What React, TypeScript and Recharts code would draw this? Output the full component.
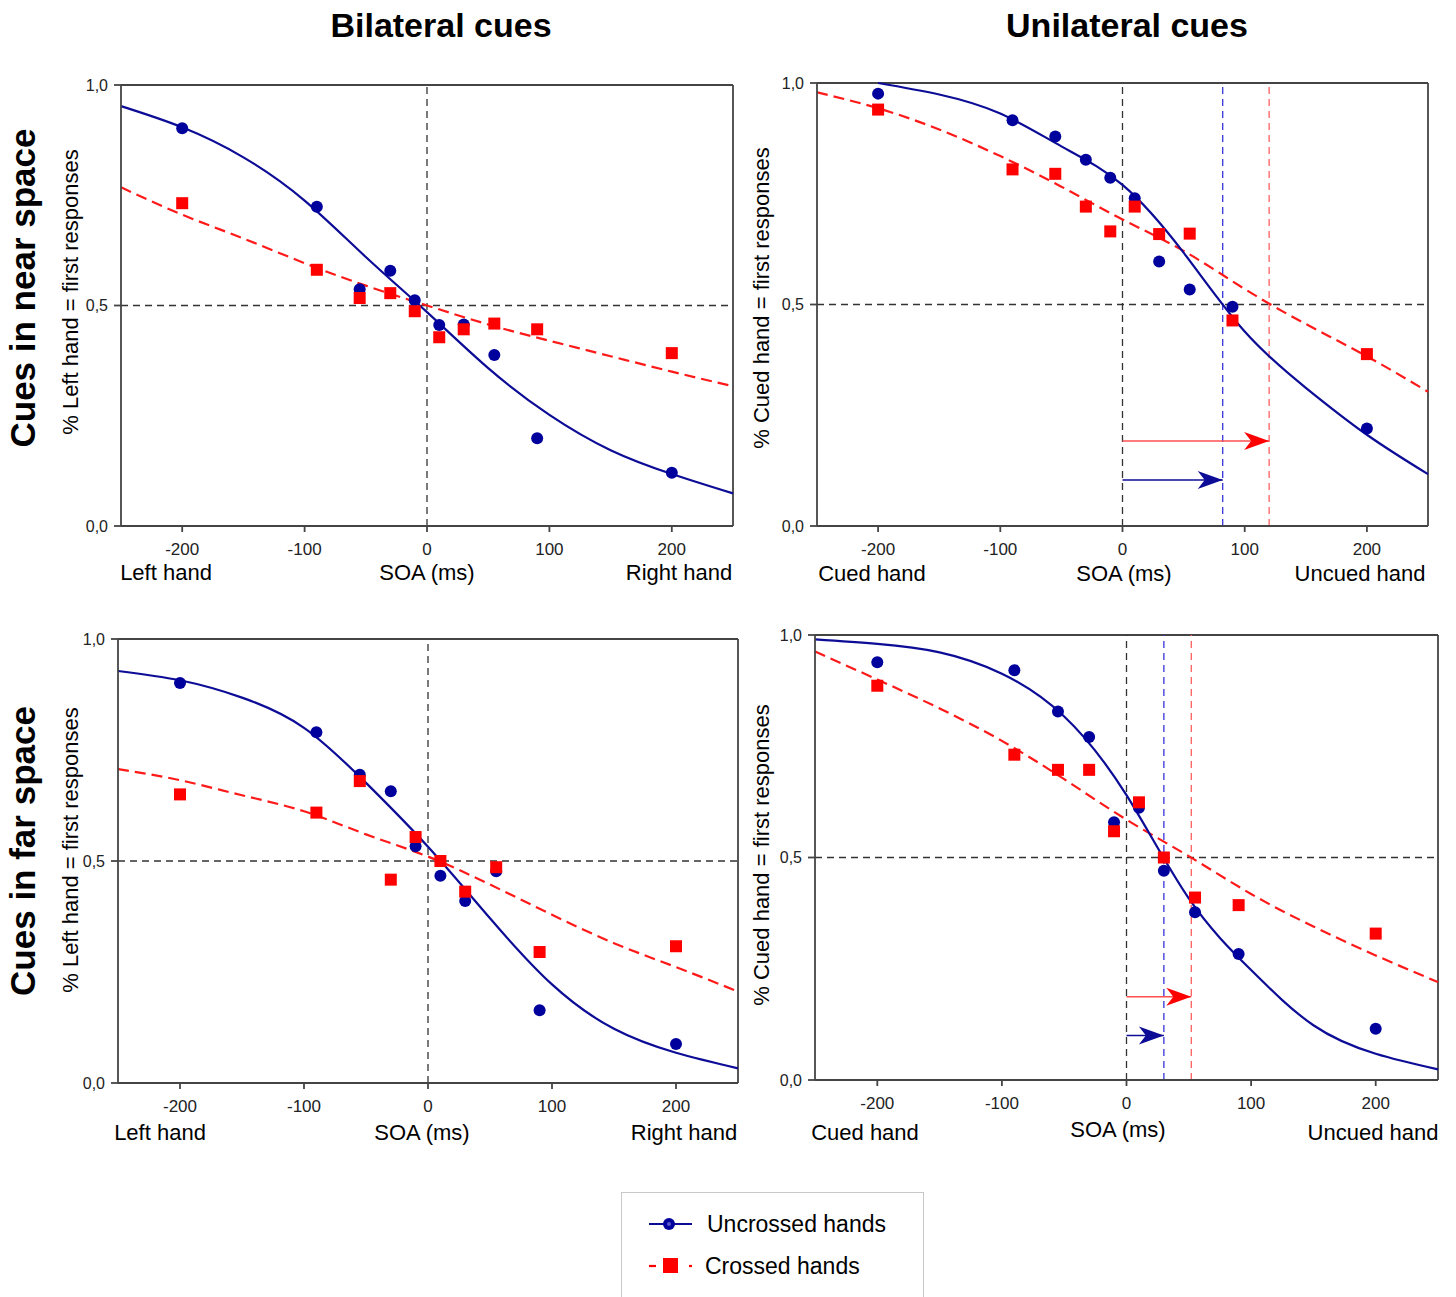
import React from 'react'
import { ComposedChart, Line, Scatter, XAxis, YAxis, ReferenceLine } from 'recharts'

const SOA = [-200, -90, -55, -30, -10, 10, 30, 55, 90, 200]
const FIT_SOA = [-250, -200, -150, -100, -50, 0, 50, 100, 150, 200, 250]
const X_TICKS = [-200, -100, 0, 100, 200]
const Y_TICKS = [0, 0.5, 1]

// near space, bilateral cues
const nearBiUncrossed = [0.902, 0.724, 0.537, 0.579, 0.512, 0.456, 0.457, 0.388, 0.199, 0.121]
const nearBiCrossed = [0.732, 0.581, 0.517, 0.528, 0.487, 0.428, 0.446, 0.459, 0.446, 0.392]
const nearBiUncrossedFit = [0.952, 0.904, 0.836, 0.738, 0.61, 0.485, 0.358, 0.252, 0.172, 0.118, 0.074]
const nearBiCrossedFit = [0.768, 0.706, 0.652, 0.596, 0.545, 0.5, 0.457, 0.42, 0.385, 0.35, 0.317]

// near space, unilateral cues
const nearUniUncrossed = [0.976, 0.916, 0.879, 0.827, 0.786, 0.74, 0.597, 0.534, 0.495, 0.22]
const nearUniCrossed = [0.94, 0.805, 0.795, 0.721, 0.665, 0.721, 0.659, 0.66, 0.464, 0.388]
const nearUniUncrossedFit = [null, 1.0, 0.974, 0.931, 0.857, 0.77, 0.617, 0.439, 0.312, 0.206, 0.117]
const nearUniCrossedFit = [0.979, 0.943, 0.895, 0.835, 0.766, 0.692, 0.621, 0.535, 0.456, 0.383, 0.303]
const nearUniPSE = [82, 120] // uncrossed, crossed
const nearUniArrowY = [0.104, 0.192]

// far space, bilateral cues
const farBiUncrossed = [0.901, 0.79, 0.694, 0.657, 0.533, 0.467, 0.41, 0.477, 0.164, 0.088]
const farBiCrossed = [0.65, 0.609, 0.68, 0.458, 0.554, 0.5, 0.431, 0.486, 0.295, 0.308]
const farBiUncrossedFit = [0.928, 0.907, 0.868, 0.8, 0.676, 0.532, 0.371, 0.222, 0.122, 0.068, 0.033]
const farBiCrossedFit = [0.707, 0.682, 0.648, 0.612, 0.56, 0.51, 0.447, 0.379, 0.315, 0.261, 0.206]

// far space, unilateral cues
const farUniUncrossed = [0.939, 0.921, 0.828, 0.771, 0.579, 0.612, 0.47, 0.377, 0.283, 0.115]
const farUniCrossed = [0.886, 0.731, 0.697, 0.697, 0.559, 0.624, 0.5, 0.41, 0.393, 0.329]
const farUniUncrossedFit = [0.99, 0.98, 0.961, 0.913, 0.817, 0.64, 0.408, 0.247, 0.123, 0.059, 0.024]
const farUniCrossedFit = [0.963, 0.9, 0.835, 0.762, 0.676, 0.585, 0.503, 0.418, 0.345, 0.28, 0.22]
const farUniPSE = [30, 52]
const farUniArrowY = [0.1, 0.187]

const BLUE = '#0c0c96'
const BLUE_DOT = '#00009c'
const RED = '#ff0000'
const AXIS = '#444'

const toPoints = (xs: number[], ys: (number | null)[]) =>
  xs.map((x, i) => ({ x, y: ys[i] })).filter((d) => d.y != null)

const circleShape = (p: any) => <circle cx={p.cx} cy={p.cy} r={6} fill={BLUE_DOT} />
const squareShape = (p: any) => (
  <rect x={p.cx - 6} y={p.cy - 6} width={12} height={12} fill={RED} />
)
const arrowHead = (color: string) => (p: any) => (
  <path
    d={`M${p.cx},${p.cy} L${p.cx - 25},${p.cy - 9} L${p.cx - 18},${p.cy} L${p.cx - 25},${p.cy + 9} Z`}
    fill={color}
  />
)

type Box = { l: number; t: number; r: number; b: number }

function Panel({
  box,
  unc,
  cr,
  uncFit,
  crFit,
  pse,
  arrowY,
}: {
  box: Box
  unc: number[]
  cr: number[]
  uncFit: (number | null)[]
  crFit: (number | null)[]
  pse?: number[]
  arrowY?: number[]
}) {
  const padL = 70
  const padT = 12
  const padR = 12
  const padB = 40
  const width = box.r - box.l + padL + padR
  const height = box.b - box.t + padT + padB
  const tick = { fontSize: 17, fill: '#222' }

  return (
    <div style={{ position: 'absolute', left: box.l - padL, top: box.t - padT }}>
      <ComposedChart width={width} height={height} margin={{ top: padT, right: padR, bottom: 0, left: 0 }}>
        <XAxis
          dataKey="x"
          type="number"
          domain={[-250, 250]}
          ticks={X_TICKS}
          height={padB}
          tick={tick}
          tickSize={6}
          tickMargin={11}
          stroke={AXIS}
          strokeWidth={1.8}
        />
        <YAxis
          dataKey="y"
          type="number"
          domain={[0, 1]}
          ticks={Y_TICKS}
          width={padL}
          tick={{ fontSize: 16, fill: '#222' }}
          tickSize={7}
          tickMargin={6}
          stroke={AXIS}
          strokeWidth={1.8}
          tickFormatter={(v: number) => v.toFixed(1).replace('.', ',')}
        />
        <ReferenceLine y={1} stroke={AXIS} strokeWidth={1.8} />
        <ReferenceLine x={250} stroke={AXIS} strokeWidth={1.8} />
        <ReferenceLine y={0.5} stroke="#333" strokeWidth={1.3} strokeDasharray="7 5" />
        <ReferenceLine x={0} stroke="#333" strokeWidth={1.3} strokeDasharray="7 5" />
        {pse && <ReferenceLine x={pse[0]} stroke="#3535d8" strokeWidth={1.3} strokeDasharray="7 5" />}
        {pse && <ReferenceLine x={pse[1]} stroke="#ff6060" strokeWidth={1.3} strokeDasharray="7 5" />}
        {pse && arrowY && (
          <Line
            data={[{ x: 0, y: arrowY[1] }, { x: pse[1], y: arrowY[1] }]}
            dataKey="y"
            stroke="#ff5050"
            strokeWidth={1.5}
            dot={false}
            isAnimationActive={false}
          />
        )}
        {pse && arrowY && (
          <Line
            data={[{ x: 0, y: arrowY[0] }, { x: pse[0], y: arrowY[0] }]}
            dataKey="y"
            stroke={BLUE}
            strokeWidth={1.5}
            dot={false}
            isAnimationActive={false}
          />
        )}
        {pse && arrowY && (
          <Scatter data={[{ x: pse[1], y: arrowY[1] }]} shape={arrowHead(RED)} isAnimationActive={false} />
        )}
        {pse && arrowY && (
          <Scatter data={[{ x: pse[0], y: arrowY[0] }]} shape={arrowHead(BLUE)} isAnimationActive={false} />
        )}
        <Line
          data={toPoints(FIT_SOA, crFit)}
          dataKey="y"
          type="natural"
          stroke="#ff1a1a"
          strokeWidth={2.2}
          strokeDasharray="11 6"
          dot={false}
          isAnimationActive={false}
        />
        <Line
          data={toPoints(FIT_SOA, uncFit)}
          dataKey="y"
          type="natural"
          stroke={BLUE}
          strokeWidth={2.2}
          dot={false}
          isAnimationActive={false}
        />
        <Scatter data={toPoints(SOA, unc)} shape={circleShape} isAnimationActive={false} />
        <Scatter data={toPoints(SOA, cr)} shape={squareShape} isAnimationActive={false} />
      </ComposedChart>
    </div>
  )
}

function HText({ x, y, size, bold, children }: any) {
  return (
    <div
      style={{
        position: 'absolute',
        left: x,
        top: y,
        transform: 'translate(-50%, -50%)',
        whiteSpace: 'nowrap',
        fontSize: size,
        fontWeight: bold ? 'bold' : 'normal',
        lineHeight: 1,
      }}
    >
      {children}
    </div>
  )
}

function VText({ x, y, size, bold, children }: any) {
  return (
    <div
      style={{
        position: 'absolute',
        left: x,
        top: y,
        transform: 'translate(-50%, -50%) rotate(-90deg)',
        whiteSpace: 'nowrap',
        fontSize: size,
        fontWeight: bold ? 'bold' : 'normal',
        lineHeight: 1,
      }}
    >
      {children}
    </div>
  )
}

export default function App() {
  return (
    <div
      style={{
        position: 'absolute',
        left: 0,
        top: 0,
        width: 1456,
        height: 1297,
        overflow: 'hidden',
        background: '#fff',
        color: '#000',
        fontFamily: '"Liberation Sans", Arial, sans-serif',
      }}
    >
      <HText x={441} y={25} size={34} bold>Bilateral cues</HText>
      <HText x={1127} y={25} size={34} bold>Unilateral cues</HText>
      <VText x={22} y={288} size={35} bold>Cues in near space</VText>
      <VText x={22} y={851} size={35} bold>Cues in far space</VText>

      <VText x={71} y={292} size={22}>% Left hand = first responses</VText>
      <VText x={762} y={298} size={22}>% Cued hand = first responses</VText>
      <VText x={71} y={850} size={22}>% Left hand = first responses</VText>
      <VText x={762} y={855} size={22}>% Cued hand = first responses</VText>

      <Panel box={{ l: 121, t: 85, r: 733, b: 526 }} unc={nearBiUncrossed} cr={nearBiCrossed}
        uncFit={nearBiUncrossedFit} crFit={nearBiCrossedFit} />
      <Panel box={{ l: 817, t: 83, r: 1428, b: 526 }} unc={nearUniUncrossed} cr={nearUniCrossed}
        uncFit={nearUniUncrossedFit} crFit={nearUniCrossedFit} pse={nearUniPSE} arrowY={nearUniArrowY} />
      <Panel box={{ l: 118, t: 639, r: 738, b: 1083 }} unc={farBiUncrossed} cr={farBiCrossed}
        uncFit={farBiUncrossedFit} crFit={farBiCrossedFit} />
      <Panel box={{ l: 815, t: 635, r: 1438, b: 1080 }} unc={farUniUncrossed} cr={farUniCrossed}
        uncFit={farUniUncrossedFit} crFit={farUniCrossedFit} pse={farUniPSE} arrowY={farUniArrowY} />

      <HText x={166} y={573} size={22}>Left hand</HText>
      <HText x={427} y={573} size={22}>SOA (ms)</HText>
      <HText x={679} y={573} size={22}>Right hand</HText>
      <HText x={872} y={574} size={22}>Cued hand</HText>
      <HText x={1124} y={574} size={22}>SOA (ms)</HText>
      <HText x={1360} y={574} size={22}>Uncued hand</HText>
      <HText x={160} y={1133} size={22}>Left hand</HText>
      <HText x={422} y={1133} size={22}>SOA (ms)</HText>
      <HText x={684} y={1133} size={22}>Right hand</HText>
      <HText x={865} y={1133} size={22}>Cued hand</HText>
      <HText x={1118} y={1130} size={22}>SOA (ms)</HText>
      <HText x={1373} y={1133} size={22}>Uncued hand</HText>

      <div
        style={{
          position: 'absolute',
          left: 621,
          top: 1192,
          width: 303,
          height: 130,
          border: '1.5px solid #c8c8c8',
          boxSizing: 'border-box',
        }}
      >
        <svg width={60} height={100} style={{ position: 'absolute', left: 22, top: 0 }}>
          <line x1={5} x2={48} y1={31} y2={31} stroke={BLUE} strokeWidth={2.2} />
          <circle cx={25} cy={31} r={6} fill={BLUE_DOT} />
          <circle cx={25} cy={31} r={2} fill="#5a5ad0" />
          <line x1={5} x2={12} y1={73} y2={73} stroke={RED} strokeWidth={2.2} />
          <rect x={19} y={65} width={15} height={15} fill={RED} />
          <line x1={45} x2={48} y1={73} y2={73} stroke={RED} strokeWidth={2.2} />
        </svg>
        <div style={{ position: 'absolute', left: 85, top: 31, transform: 'translateY(-50%)', fontSize: 23, whiteSpace: 'nowrap', lineHeight: 1 }}>
          Uncrossed hands
        </div>
        <div style={{ position: 'absolute', left: 83, top: 73, transform: 'translateY(-50%)', fontSize: 23, whiteSpace: 'nowrap', lineHeight: 1 }}>
          Crossed hands
        </div>
      </div>
    </div>
  )
}
